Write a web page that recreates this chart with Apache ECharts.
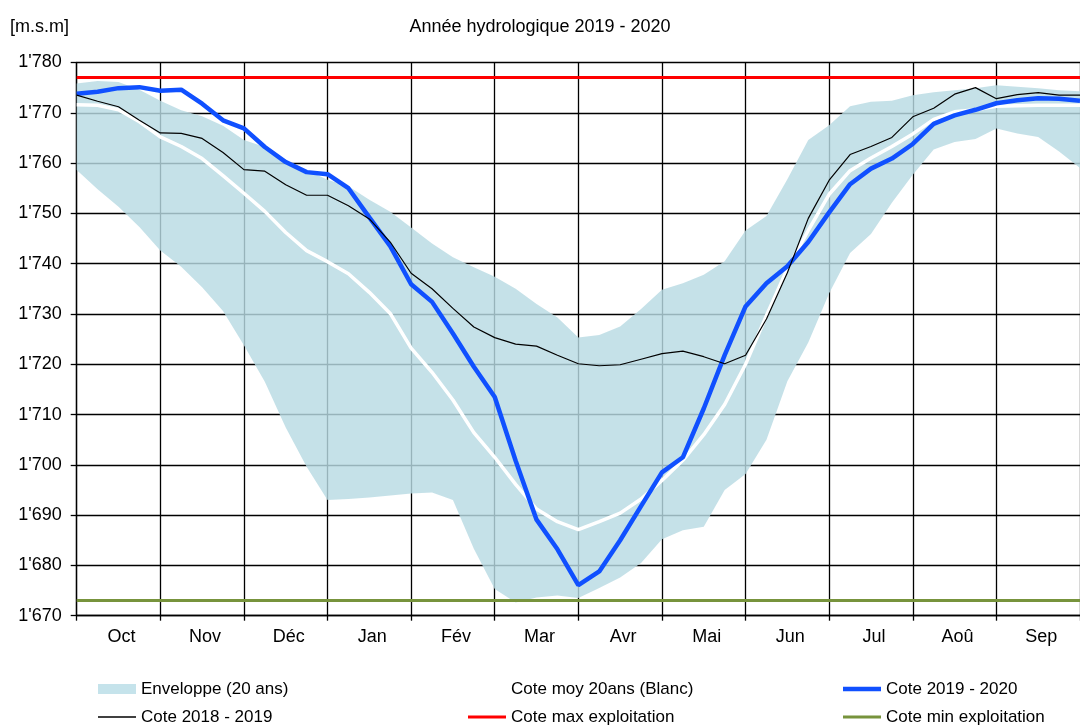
<!DOCTYPE html>
<html>
<head>
<meta charset="utf-8">
<title>Année hydrologique 2019 - 2020</title>
<script src="https://cdn.jsdelivr.net/npm/echarts@6/dist/echarts.min.js"></script>
<style>
  html, body { margin: 0; padding: 0; background: #fff; }
  #chart { width: 1080px; height: 727px; }
</style>
</head>
<body>
<div id="chart"></div>
<script>
// mois de l'année hydrologique (oct -> sep)
var months = ['Oct', 'Nov', 'Déc', 'Jan', 'Fév', 'Mar', 'Avr', 'Mai', 'Jun', 'Jul', 'Aoû', 'Sep'];

// points tous les quarts de mois (0 = 1er octobre, 48 = 30 septembre)
var steps = [0, 1, 2, 3, 4, 5, 6, 7, 8, 9, 10, 11, 12, 13, 14, 15, 16, 17, 18, 19, 20, 21, 22, 23, 24,
  25, 26, 27, 28, 29, 30, 31, 32, 33, 34, 35, 36, 37, 38, 39, 40, 41, 42, 43, 44, 45, 46, 47, 48];

var cote2020 = [1773.8, 1774.2, 1774.9, 1775.1, 1774.4, 1774.6, 1771.8, 1768.5, 1766.9, 1763.2, 1760.2, 1758.2,
  1757.8, 1755.0, 1749.2, 1743.5, 1735.9, 1732.4, 1726.1, 1719.5, 1713.5, 1700.8, 1689.1, 1683.2,
  1676.1, 1678.8, 1685.0, 1691.8, 1698.5, 1701.5, 1711.2, 1721.8, 1731.5, 1736.1, 1739.5, 1744.3,
  1750.2, 1755.8, 1758.9, 1760.9, 1763.8, 1767.8, 1769.5, 1770.6, 1771.9, 1772.5, 1772.9, 1772.8, 1772.4];

var cote2019 = [1773.5, 1772.3, 1771.2, 1768.5, 1766.0, 1765.9, 1764.9, 1762.1, 1758.7, 1758.4, 1755.7, 1753.6,
  1753.6, 1751.5, 1748.9, 1744.3, 1738.1, 1735.0, 1731.1, 1727.4, 1725.3, 1724.0, 1723.6, 1721.8,
  1720.1, 1719.7, 1719.9, 1721.0, 1722.1, 1722.6, 1721.5, 1720.1, 1721.8, 1729.0, 1738.2, 1749.0,
  1756.6, 1761.7, 1763.3, 1765.1, 1769.2, 1770.9, 1773.7, 1775.0, 1772.8, 1773.6, 1774.0, 1773.5, 1773.5];

var coteMoy = [1771.6, 1771.5, 1770.6, 1768.2, 1765.2, 1763.3, 1760.9, 1757.5, 1754.0, 1750.4, 1746.2, 1742.6,
  1740.4, 1738.0, 1734.3, 1730.1, 1723.2, 1718.4, 1712.9, 1706.4, 1701.5, 1696.1, 1691.2, 1688.7,
  1687.1, 1688.7, 1690.4, 1693.2, 1696.9, 1700.9, 1706.0, 1712.0, 1720.0, 1729.7, 1739.0, 1746.6,
  1753.8, 1758.5, 1761.0, 1763.3, 1765.8, 1768.7, 1770.2, 1770.6, 1771.3, 1771.4, 1771.5, 1771.5, 1771.5];

var envMax = [1775.8, 1776.3, 1776.1, 1774.6, 1772.4, 1770.5, 1769.3, 1767.4, 1764.6, 1763.2, 1760.6, 1758.6,
  1756.7, 1755.4, 1752.7, 1750.3, 1747.2, 1744.0, 1741.3, 1739.3, 1737.4, 1735.0, 1732.0, 1729.3,
  1725.3, 1725.8, 1727.5, 1731.0, 1734.8, 1736.1, 1737.8, 1740.5, 1746.6, 1749.5, 1756.8, 1764.6,
  1767.5, 1771.3, 1772.2, 1772.4, 1773.5, 1774.1, 1774.5, 1774.9, 1775.5, 1775.2, 1774.9, 1774.5, 1774.3];

var envMin = [1758.6, 1754.8, 1751.3, 1747.3, 1742.6, 1739.4, 1735.3, 1730.6, 1723.8, 1716.5, 1707.4, 1699.6,
  1693.0, 1693.2, 1693.5, 1693.9, 1694.3, 1694.5, 1693.0, 1683.3, 1675.3, 1672.6, 1673.6, 1674.0,
  1673.5, 1675.5, 1677.6, 1680.5, 1685.2, 1687.0, 1687.7, 1695.0, 1698.2, 1705.0, 1716.6, 1724.3,
  1734.1, 1742.1, 1745.9, 1752.1, 1757.7, 1762.7, 1764.2, 1764.8, 1766.9, 1765.9, 1765.2, 1762.3, 1759.0];

var coteMax = 1777;
var coteMin = 1673;

var envBand = envMax.map(function (v, i) { return +(v - envMin[i]).toFixed(1); });

var myChart = echarts.init(document.getElementById('chart'));
var font = '"Liberation Sans", Arial, sans-serif';

// petites barres pour les icônes de légende (épaisseur = trait de la série)
function barIcon(h) {
  return 'path://M0,0H38V' + h + 'H0Z';
}

function makeLegend(left, items) {
  return {
    orient: 'vertical',
    left: left,
    top: 680,
    padding: 0,
    itemWidth: 38,
    itemHeight: 10,
    itemGap: 10,
    selectedMode: false,
    symbolKeepAspect: true,
    textStyle: { color: '#000', fontSize: 17, fontFamily: font, lineHeight: 18 },
    data: items
  };
}

var option = {
  animation: false,
  backgroundColor: '#fff',
  title: [{
    text: 'Année hydrologique 2019 - 2020',
    left: 'center',
    top: 13,
    textStyle: { color: '#000', fontSize: 18, fontWeight: 'normal', fontFamily: font }
  }, {
    text: '[m.s.m]',
    left: 5,
    top: 13,
    textStyle: { color: '#000', fontSize: 18, fontWeight: 'normal', fontFamily: font }
  }],
  legend: [
    makeLegend(98, [
      { name: 'Enveloppe (20 ans)', icon: 'path://M0,0H38V10H0Z', itemStyle: { color: '#c5e3eb' } },
      { name: 'Cote 2018 - 2019', icon: barIcon(1.3), itemStyle: { color: '#000' } }
    ]),
    makeLegend(468, [
      { name: 'Cote moy 20ans (Blanc)', icon: barIcon(3.5), itemStyle: { color: '#fff' } },
      { name: 'Cote max exploitation', icon: barIcon(3), itemStyle: { color: '#ff0000' } }
    ]),
    makeLegend(843, [
      { name: 'Cote 2019 - 2020', icon: barIcon(4.5), itemStyle: { color: '#1050ff' } },
      { name: 'Cote min exploitation', icon: barIcon(3), itemStyle: { color: '#77933c' } }
    ])
  ],
  grid: { left: 76.7, right: -10, top: 62.5, bottom: 111.3, containLabel: false },
  xAxis: [{
    type: 'category',
    data: steps,
    boundaryGap: false,
    show: false
  }, {
    type: 'category',
    data: months,
    position: 'bottom',
    boundaryGap: true,
    axisLine: { lineStyle: { color: '#000', width: 1.3 } },
    axisTick: { show: true, length: 5, lineStyle: { color: '#000', width: 1.3 } },
    axisLabel: { color: '#000', fontSize: 18, fontFamily: font, margin: 12, padding: [0, 0, 0, 6] },
    splitLine: { show: true, lineStyle: { color: '#000', width: 1.3 } }
  }],
  yAxis: {
    type: 'value',
    min: 1670,
    max: 1780,
    interval: 10,
    axisLine: { show: true, lineStyle: { color: '#000', width: 1.3 } },
    axisTick: { show: true, length: 6, lineStyle: { color: '#000', width: 1.3 } },
    axisLabel: {
      color: '#000', fontSize: 18, fontFamily: font, margin: 15,
      formatter: function (v) { return Math.floor(v / 1000) + "'" + ('00' + (v % 1000)).slice(-3); }
    },
    splitLine: { show: true, lineStyle: { color: '#000', width: 1.3 } }
  },
  series: [{
    name: 'envMin',
    type: 'line',
    xAxisIndex: 0,
    stack: 'env',
    data: envMin,
    symbol: 'none',
    lineStyle: { opacity: 0 },
    silent: true
  }, {
    name: 'Enveloppe (20 ans)',
    type: 'line',
    xAxisIndex: 0,
    stack: 'env',
    data: envBand,
    symbol: 'none',
    lineStyle: { opacity: 0, width: 0 },
    itemStyle: { color: '#c5e3eb' },
    areaStyle: { color: 'rgb(184,218,227)', opacity: 0.82 },
    silent: true
  }, {
    name: 'Cote moy 20ans (Blanc)',
    type: 'line',
    xAxisIndex: 0,
    data: coteMoy,
    symbol: 'none',
    itemStyle: { color: '#fff' },
    lineStyle: { color: '#fff', width: 3.5 }
  }, {
    name: 'Cote 2019 - 2020',
    type: 'line',
    xAxisIndex: 0,
    data: cote2020,
    symbol: 'none',
    itemStyle: { color: '#1050ff' },
    lineStyle: { color: '#1050ff', width: 4.5 }
  }, {
    name: 'Cote 2018 - 2019',
    type: 'line',
    xAxisIndex: 0,
    data: cote2019,
    symbol: 'none',
    itemStyle: { color: '#000' },
    lineStyle: { color: '#000', width: 1.2 }
  }, {
    name: 'Cote max exploitation',
    type: 'line',
    xAxisIndex: 0,
    data: [],
    symbol: 'none',
    itemStyle: { color: '#ff0000' },
    lineStyle: { color: '#ff0000', width: 3 },
    markLine: {
      silent: true,
      symbol: ['none', 'none'],
      label: { show: false },
      lineStyle: { color: '#ff0000', width: 3, type: 'solid' },
      data: [{ yAxis: coteMax }]
    }
  }, {
    name: 'Cote min exploitation',
    type: 'line',
    xAxisIndex: 0,
    data: [],
    symbol: 'none',
    itemStyle: { color: '#77933c' },
    lineStyle: { color: '#77933c', width: 3 },
    markLine: {
      silent: true,
      symbol: ['none', 'none'],
      label: { show: false },
      lineStyle: { color: '#77933c', width: 3, type: 'solid' },
      data: [{ yAxis: coteMin }]
    }
  }]
};

myChart.setOption(option);
window.addEventListener('resize', function () {
  myChart.resize();
});
</script>
</body>
</html>
